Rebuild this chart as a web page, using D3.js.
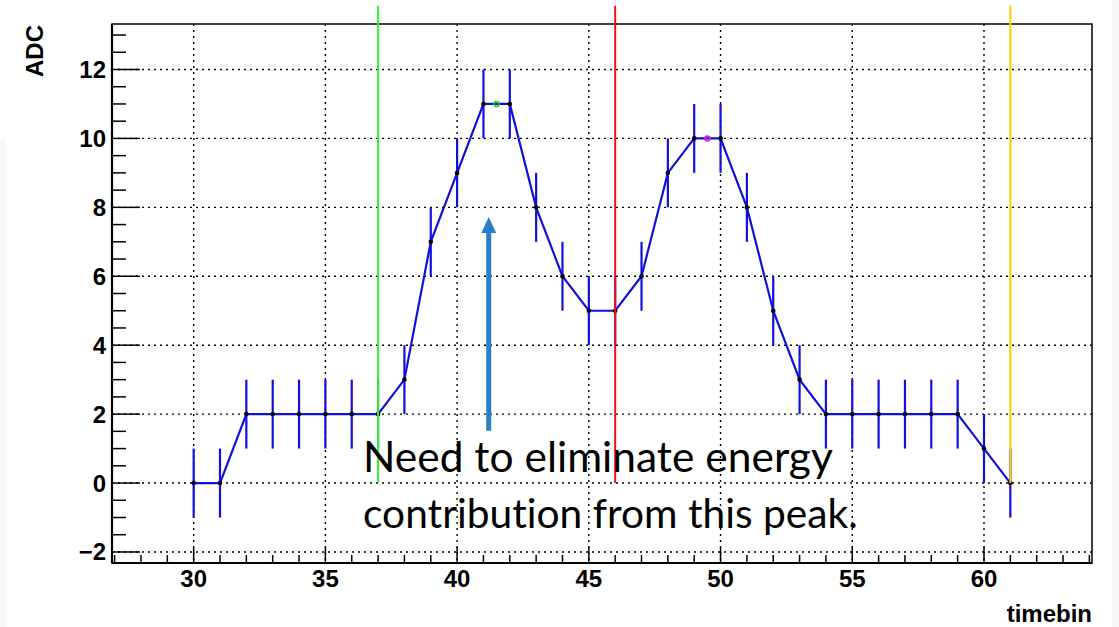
<!DOCTYPE html>
<html><head><meta charset="utf-8">
<script src="https://cdn.jsdelivr.net/npm/d3@7"></script>
<style>
html,body{margin:0;padding:0;background:#fff;}
svg{display:block;}
</style></head>
<body>
<svg id="chart" width="1119" height="627"></svg>
<script>
// ---- data ----
const timebins = [30,31,32,33,34,35,36,37,38,39,40,41,42,43,44,45,46,47,48,49,50,51,52,53,54,55,56,57,58,59,60,61];
const adc      = [0,0,2,2,2,2,2,2,3,7,9,11,11,8,6,5,5,6,9,10,10,8,5,3,2,2,2,2,2,2,1,0];
const adcErr   = [1,1,1,1,1,1,1,1,1,1,1,1,1,1,1,1,1,1,1,1,1,1,1,1,1,1,1,1,1,1,1,1];
const peakMarkers = [{x:41.5, y:11, color:"#22cc22"}, {x:49.5, y:10, color:"#dd22dd"}];
const vLines = [{x:37, color:"#33ee33"}, {x:46, color:"#ee1111"}, {x:61, color:"#ffcc00"}];
const vLineRange = [0, 13.85];
const xTicks = [30,35,40,45,50,55,60];
const yTicks = [-2,0,2,4,6,8,10,12];
const xDomain = [26.9, 64.1];
const yDomain = [-2.32, 13.32];
const arrowX = 41.2, arrowY = [1.52, 7.72];
const noteLines = ["Need to eliminate energy", "contribution from this peak."];

// ---- layout ----
const svg = d3.select("#chart");
const L = 112, R = 1092, T = 24, B = 563;
const x = d3.scaleLinear().domain(xDomain).range([L, R]);
const y = d3.scaleLinear().domain(yDomain).range([B, T]);

// faint slide edges
svg.append("rect").attr("x",1112).attr("y",0).attr("width",7).attr("height",627).attr("fill","#f6f6f6");
svg.append("rect").attr("x",0).attr("y",140).attr("width",6).attr("height",487).attr("fill","#f8f8f8");

// grid
const grid = svg.append("g");
xTicks.forEach(t => grid.append("line").attr("x1",x(t)).attr("x2",x(t)).attr("y1",T).attr("y2",B)
  .attr("stroke","#000").attr("stroke-width",1.4).attr("stroke-dasharray","2,4"));
yTicks.forEach(t => grid.append("line").attr("x1",L).attr("x2",R).attr("y1",y(t)).attr("y2",y(t))
  .attr("stroke","#000").attr("stroke-width",1.4).attr("stroke-dasharray","2,4"));

// frame
svg.append("rect").attr("x",L).attr("y",T).attr("width",R-L).attr("height",B-T)
  .attr("fill","none").attr("stroke","#000").attr("stroke-width",1.5);

// axes with inward ticks
const xMinor = d3.range(27, 65, 1);
const yMinor = d3.range(-2, 13.5, 0.5);
const ax = svg.append("g");
xMinor.forEach(t => {
  const major = t % 5 === 0;
  ax.append("line").attr("x1",x(t)).attr("x2",x(t)).attr("y1",B).attr("y2",B-(major?16:8))
    .attr("stroke","#000").attr("stroke-width",1.5);
});
yMinor.forEach(t => {
  const major = Math.abs(t % 2) === 0;
  ax.append("line").attr("x1",L).attr("x2",L+(major?28:14)).attr("y1",y(t)).attr("y2",y(t))
    .attr("stroke","#000").attr("stroke-width",1.5);
});
ax.append("line").attr("x1",L).attr("x2",R).attr("y1",B).attr("y2",B).attr("stroke","#000").attr("stroke-width",2.2);
ax.append("line").attr("x1",L).attr("x2",L).attr("y1",T).attr("y2",B).attr("stroke","#000").attr("stroke-width",2.2);

const font = "'Liberation Sans', Arial, Helvetica, sans-serif";
xTicks.forEach(t => svg.append("text").attr("x",x(t)).attr("y",587).attr("text-anchor","middle")
  .attr("font-family",font).attr("font-weight","bold").attr("font-size",24).text(t));
yTicks.forEach(t => svg.append("text").attr("x",L-6).attr("y",y(t)+8.5).attr("text-anchor","end")
  .attr("font-family",font).attr("font-weight","bold").attr("font-size",24).text(t < 0 ? "\u2212" + Math.abs(t) : t));

svg.append("text").attr("transform","translate(43,25) rotate(-90)").attr("text-anchor","end")
  .attr("font-family",font).attr("font-weight","bold").attr("font-size",24).text("ADC");
svg.append("text").attr("x",R).attr("y",622).attr("text-anchor","end")
  .attr("font-family",font).attr("font-weight","bold").attr("font-size",24).text("timebin");

// data
const pts = timebins.map((t,i) => ({x:t, y:adc[i], e:adcErr[i]}));
const blue = "#1010e0";
svg.append("g").selectAll("line").data(pts).join("line")
  .attr("x1",d=>x(d.x)).attr("x2",d=>x(d.x)).attr("y1",d=>y(d.y-d.e)).attr("y2",d=>y(d.y+d.e))
  .attr("stroke",blue).attr("stroke-width",2.2);
svg.append("path").datum(pts).attr("d", d3.line().x(d=>x(d.x)).y(d=>y(d.y)))
  .attr("fill","none").attr("stroke",blue).attr("stroke-width",2.2);
svg.append("g").selectAll("circle").data(pts).join("circle")
  .attr("cx",d=>x(d.x)).attr("cy",d=>y(d.y)).attr("r",2.3).attr("fill","#000");
svg.append("g").selectAll("circle").data(peakMarkers).join("circle")
  .attr("cx",d=>x(d.x)).attr("cy",d=>y(d.y)).attr("r",2.5).attr("fill","none")
  .attr("stroke",d=>d.color).attr("stroke-width",1.5);

// vertical lines
svg.append("g").selectAll("line").data(vLines).join("line")
  .attr("x1",d=>x(d.x)).attr("x2",d=>x(d.x)).attr("y1",y(vLineRange[0])).attr("y2",y(vLineRange[1]))
  .attr("stroke",d=>d.color).attr("stroke-width",2);

// arrow
const ax0 = x(arrowX), yb = y(arrowY[0]), yt = y(arrowY[1]);
svg.append("line").attr("x1",ax0).attr("x2",ax0).attr("y1",yb).attr("y2",yt+14)
  .attr("stroke","#2a80c4").attr("stroke-width",5);
svg.append("path").attr("d",`M${ax0},${yt} L${ax0-7.5},${yt+16} L${ax0+7.5},${yt+16} Z`).attr("fill","#2a80c4");

// note
const noteFont = "'Lato', 'Open Sans', sans-serif";
const targetW = [470, 495];
noteLines.forEach((s,i) => {
  const t = svg.append("text").attr("x",363).attr("y",472 + i*56)
    .attr("font-family",noteFont).attr("font-size",40).attr("fill","#000")
    .style("font-variant-ligatures","none").style("font-feature-settings","'liga' 0")
    .text(s);
  const w = t.node().getComputedTextLength();
  t.attr("font-size", 40*targetW[i]/w);
});
</script>
</body></html>
